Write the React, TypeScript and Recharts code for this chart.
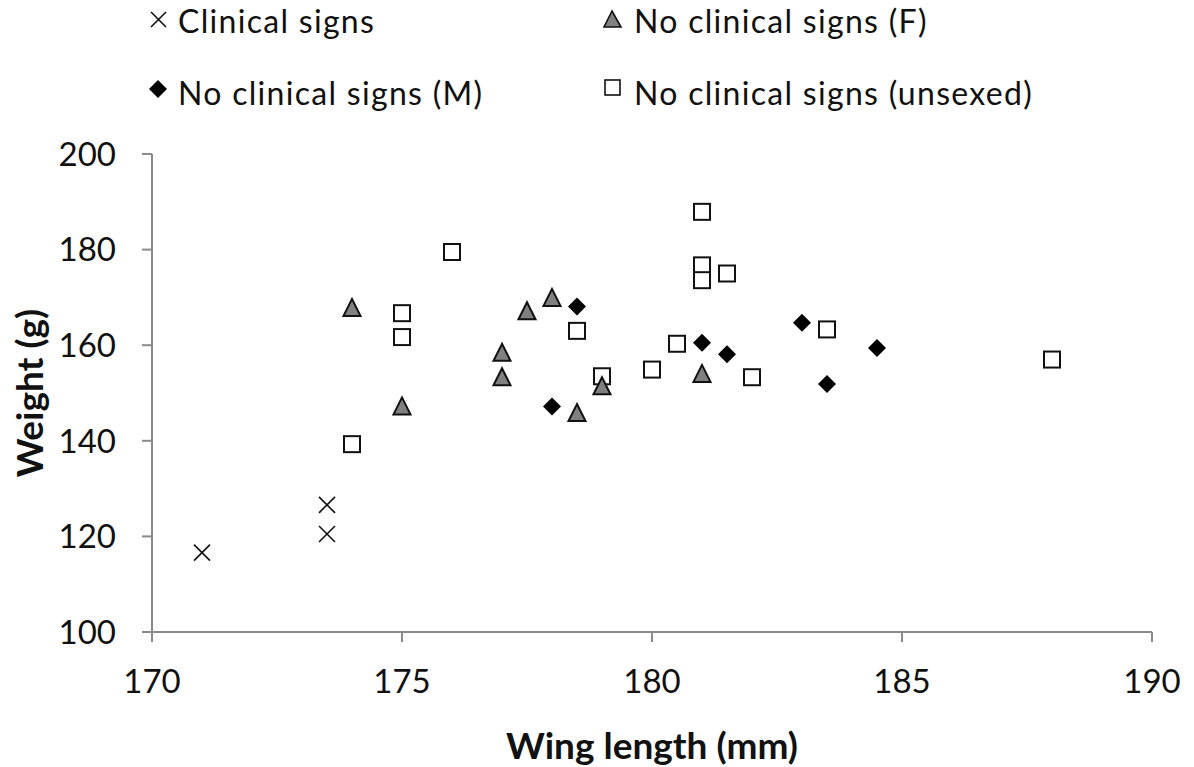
import React from "react";
import { ScatterChart, Scatter, XAxis, YAxis } from "recharts";

// Wing length (mm) / weight (g) readings, one array per group
const clinicalWing = [171, 173.5, 173.5];
const clinicalWeight = [116.6, 126.6, 120.5];

const femaleWing = [174, 175, 177, 177, 177.5, 178, 178.5, 179, 181];
const femaleWeight = [167.8, 147.2, 158.4, 153.3, 167.1, 169.9, 145.8, 151.4, 154.0];

const maleWing = [178.5, 178, 181, 181.5, 183, 184.5, 183.5];
const maleWeight = [168.1, 147.2, 160.5, 158.1, 164.7, 159.4, 151.9];

const unsexedWing = [174, 175, 175, 176, 178.5, 179, 180, 180.5, 181, 181, 181, 181.5, 182, 183.5, 188];
const unsexedWeight = [139.3, 166.7, 161.7, 179.5, 163.0, 153.5, 154.9, 160.3, 187.9, 176.7, 173.6, 175.0, 153.3, 163.3, 157.0];

const xTicks = [170, 175, 180, 185, 190];
const yTicks = [100, 120, 140, 160, 180, 200];

const legendLabels = ["Clinical signs", "No clinical signs (F)", "No clinical signs (M)", "No clinical signs (unsexed)"];

const FONT = "Lato, 'Open Sans', sans-serif";
const AXIS_GREY = "#8a8a8a";
const INK = "#111";

const zip = (xs: number[], ys: number[]) => xs.map((x, i) => ({ x, y: ys[i] }));

const Cross = ({ cx, cy }: any) => (
  <g>
    <line x1={cx - 8} y1={cy - 8} x2={cx + 8} y2={cy + 8} stroke={INK} strokeWidth={1.6} />
    <line x1={cx - 8} y1={cy + 8} x2={cx + 8} y2={cy - 8} stroke={INK} strokeWidth={1.6} />
  </g>
);

const Triangle = ({ cx, cy }: any) => (
  <polygon
    points={`${cx},${cy - 9} ${cx - 8.5},${cy + 8} ${cx + 8.5},${cy + 8}`}
    fill="#808080"
    stroke={INK}
    strokeWidth={2}
  />
);

const Diamond = ({ cx, cy }: any) => (
  <polygon points={`${cx},${cy - 9} ${cx + 9},${cy} ${cx},${cy + 9} ${cx - 9},${cy}`} fill="#000" />
);

const Square = ({ cx, cy }: any) => (
  <rect x={cx - 8} y={cy - 8} width={16} height={16} fill="#fff" stroke={INK} strokeWidth={2} />
);

// legend drawn as a plain svg overlay above the plot
function ChartLegend() {
  const textStyle = { fontFamily: FONT, fontSize: 32, letterSpacing: 1.3, fill: INK } as const;
  return (
    <svg width={1194} height={130} style={{ position: "absolute", left: 0, top: 0 }}>
      <g>
        <line x1={151} y1={12} x2={166} y2={27} stroke={INK} strokeWidth={1.6} />
        <line x1={151} y1={27} x2={166} y2={12} stroke={INK} strokeWidth={1.6} />
        <text x={178} y={33} style={textStyle}>{legendLabels[0]}</text>
      </g>
      <g>
        <polygon points="612,11 604,27 621,27" fill="#808080" stroke={INK} strokeWidth={1.6} />
        <text x={634} y={33} style={textStyle}>{legendLabels[1]}</text>
      </g>
      <g>
        <polygon points="158,80 167,89 158,98 149,89" fill="#000" />
        <text x={178} y={105} style={textStyle}>{legendLabels[2]}</text>
      </g>
      <g>
        <rect x={605} y={80} width={15} height={15} fill="#fff" stroke={INK} strokeWidth={1.6} />
        <text x={634} y={105} style={textStyle}>{legendLabels[3]}</text>
      </g>
    </svg>
  );
}

export default function App() {
  return (
    <div style={{ position: "fixed", left: 0, top: 0, width: 1194, height: 767, background: "#fff" }}>
      <div style={{ position: "absolute", left: 0, top: 0 }}>
        <ScatterChart width={1194} height={767} margin={{ top: 154, right: 42, bottom: 0, left: 0 }}>
          <XAxis
            type="number"
            dataKey="x"
            domain={[170, 190]}
            ticks={xTicks}
            interval={0}
            axisLine={{ stroke: AXIS_GREY, strokeWidth: 2 }}
            tickLine={{ stroke: AXIS_GREY, strokeWidth: 2 }}
            tickSize={10}
            tickMargin={28}
            tick={{ fontSize: 33, fill: INK, fontFamily: FONT }}
            height={135}
            label={{
              value: "Wing length (mm)",
              position: "insideBottom",
              offset: 8,
              style: { fontSize: 37, fontWeight: 700, fill: INK, fontFamily: FONT },
            }}
          />
          <YAxis
            type="number"
            dataKey="y"
            domain={[100, 200]}
            ticks={yTicks}
            interval={0}
            width={152}
            axisLine={{ stroke: AXIS_GREY, strokeWidth: 2 }}
            tickLine={{ stroke: AXIS_GREY, strokeWidth: 2 }}
            tickSize={10}
            tickMargin={26}
            tick={{ fontSize: 33, fill: INK, fontFamily: FONT }}
            label={{
              value: "Weight (g)",
              angle: -90,
              position: "insideLeft",
              offset: 30,
              style: { fontSize: 37, fontWeight: 700, fill: INK, fontFamily: FONT, textAnchor: "middle" },
            }}
          />
          <Scatter data={zip(unsexedWing, unsexedWeight)} shape={Square} isAnimationActive={false} />
          <Scatter data={zip(femaleWing, femaleWeight)} shape={Triangle} isAnimationActive={false} />
          <Scatter data={zip(maleWing, maleWeight)} shape={Diamond} isAnimationActive={false} />
          <Scatter data={zip(clinicalWing, clinicalWeight)} shape={Cross} isAnimationActive={false} />
        </ScatterChart>
      </div>
      <ChartLegend />
    </div>
  );
}
